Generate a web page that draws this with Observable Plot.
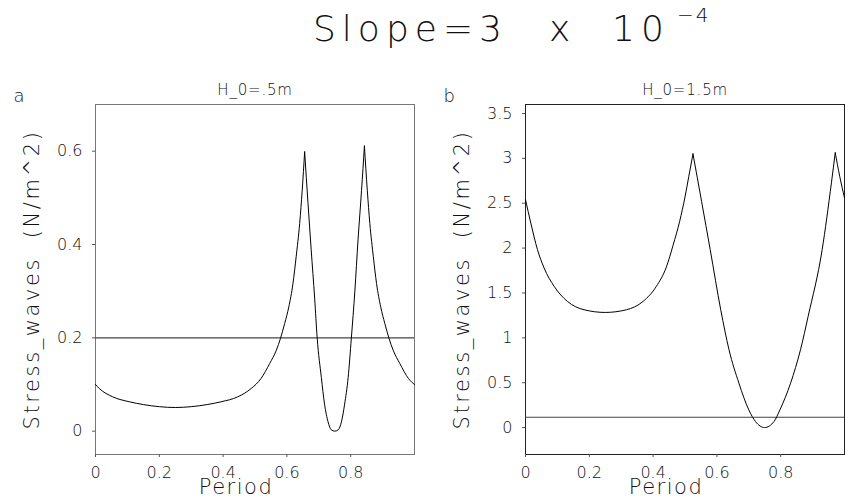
<!DOCTYPE html>
<html><head><meta charset="utf-8">
<script src="https://cdn.jsdelivr.net/npm/d3@7"></script>
<script src="https://cdn.jsdelivr.net/npm/@observablehq/plot@0.6"></script>
<style>
body{margin:0;background:#fff;font-family:"DejaVu Sans",sans-serif;}
#wrap{position:relative;width:851px;height:502px;overflow:hidden;background:#fff;}
.abs{position:absolute;white-space:nowrap;color:#111;line-height:1;font-weight:200;}
#pa{position:absolute;left:0;top:0;}
#pb{position:absolute;left:430px;top:0;}
svg text{font-weight:200;}
</style></head><body>
<div id="wrap">
  <div id="pa"></div>
  <div id="pb"></div>
  <div class="abs" style="left:313px;top:11px;font-size:36px;letter-spacing:6px;">Slope=3</div>
  <div class="abs" style="left:549px;top:11px;font-size:36px;">x</div>
  <div class="abs" style="left:612px;top:11px;font-size:36px;letter-spacing:6px;">10</div>
  <div class="abs" style="left:677px;top:5px;font-size:20px;letter-spacing:2px;">−4</div>
</div>
<script>
// Panel a: H_0 = .5m
const periodA = [0, 0.012, 0.054, 0.106, 0.15, 0.2, 0.25, 0.3, 0.35, 0.394, 0.446, 0.488, 0.519, 0.546, 0.567, 0.58, 0.593, 0.606, 0.619, 0.629, 0.64, 0.648, 0.6556, 0.666, 0.676, 0.687, 0.695, 0.708, 0.718, 0.729, 0.739, 0.75, 0.761, 0.771, 0.781, 0.792, 0.802, 0.813, 0.823, 0.834, 0.843, 0.852, 0.86, 0.871, 0.881, 0.894, 0.907, 0.92, 0.933, 0.954, 0.981, 1.0];
const stressA = [0.1, 0.0914, 0.0736, 0.063, 0.057, 0.0525, 0.0507, 0.0525, 0.057, 0.063, 0.0736, 0.0914, 0.1129, 0.145, 0.1736, 0.199, 0.2307, 0.2664, 0.3164, 0.3735, 0.445, 0.5164, 0.5985, 0.49, 0.39, 0.285, 0.199, 0.115, 0.058, 0.02, 0.003, 0, 0.003, 0.02, 0.058, 0.115, 0.199, 0.3, 0.41, 0.516, 0.611, 0.5164, 0.445, 0.3735, 0.3164, 0.2664, 0.2307, 0.199, 0.1736, 0.145, 0.1129, 0.1];
const cuspsA = [0.6556, 0.843];
// Panel b: H_0 = 1.5m
const periodB = [0, 0.0166, 0.0375, 0.0583, 0.0897, 0.1314, 0.1836, 0.25, 0.3164, 0.3686, 0.4103, 0.4417, 0.4625, 0.4834, 0.5, 0.512, 0.525, 0.552, 0.579, 0.612, 0.638, 0.669, 0.7, 0.721, 0.7495, 0.779, 0.7975, 0.831, 0.862, 0.886, 0.93, 0.959, 0.971, 0.985, 1.0];
const stressB = [2.54, 2.28, 1.983, 1.778, 1.574, 1.406, 1.313, 1.283, 1.313, 1.406, 1.574, 1.79, 2.03, 2.3, 2.57, 2.8, 3.05, 2.52, 1.983, 1.313, 0.867, 0.495, 0.197, 0.067, 0, 0.067, 0.197, 0.495, 0.867, 1.239, 1.983, 2.727, 3.062, 2.8, 2.56];
const cuspsB = [0.525, 0.971];

const refLevels = [0.2, 0.115];
const periodTicks = [0, 0.2, 0.4, 0.6, 0.8];
const ticksA = [0, 0.2, 0.4, 0.6];
const ticksB = [0, 0.5, 1, 1.5, 2, 2.5, 3, 3.5];
const titles = ["H_0=.5m", "H_0=1.5m"];
const letters = ["a", "b"];
const yLabel = "Stress_waves  (N/m^2)";
const xLabel = "Period";

// split the curve at its cusps so the smooth interpolation keeps the peaks sharp
function segments(xs, ys, cusps) {
  const bounds = [0, ...cusps, 1];
  const rows = [];
  for (let s = 0; s < bounds.length - 1; s++) {
    xs.forEach((x, i) => {
      if (x >= bounds[s] - 1e-9 && x <= bounds[s + 1] + 1e-9) rows.push({x, y: ys[i], seg: s});
    });
  }
  return rows;
}

function panel(xs, ys, cusps, ref, yDomain, yTicks, title, letter, w, mr, frameColor) {
  const data = segments(xs, ys, cusps);
  return Plot.plot({
    width: w, height: 502,
    marginLeft: 95, marginRight: mr, marginTop: 104, marginBottom: 48,
    style: {fontFamily: "DejaVu Sans, sans-serif", fontSize: "16px", color: "#111", background: "transparent", overflow: "visible"},
    x: {domain: [0, 1]},
    y: {domain: yDomain},
    marks: [
      Plot.frame({stroke: frameColor}),
      Plot.axisX({ticks: periodTicks, tickFormat: d => String(d), tickSize: 3, tickPadding: 9, label: null, stroke: "#555"}),
      Plot.axisY({ticks: yTicks, tickFormat: d => String(d), tickSize: 3, tickPadding: 10, label: null, stroke: "#555"}),
      Plot.ruleY([ref], {stroke: "#444", strokeWidth: 1.2}),
      Plot.line(data, {x: "x", y: "y", z: "seg", stroke: "#000", strokeWidth: 1, curve: "monotone-x"}),
      Plot.text([title], {frameAnchor: "top", lineAnchor: "middle", dy: -14, fontSize: 15, fill: "#111"}),
      Plot.text([letter], {frameAnchor: "top-left", textAnchor: "start", lineAnchor: "middle", dx: -82, dy: -8, fontSize: 18, fill: "#111"}),
      Plot.text([xLabel], {frameAnchor: "bottom", lineAnchor: "middle", dx: -19, dy: 33, fontSize: 21, fill: "#111"}),
      Plot.text([yLabel], {frameAnchor: "left", textAnchor: "middle", lineAnchor: "middle", dx: -63, rotate: -90, fontSize: 21, fill: "#111"})
    ]
  });
}

document.getElementById("pa").appendChild(panel(periodA, stressA, cuspsA, refLevels[0], [-0.05, 0.7], ticksA, titles[0], letters[0], 430, 16, "#777"));
document.getElementById("pb").appendChild(panel(periodB, stressB, cuspsB, refLevels[1], [-0.3, 3.6], ticksB, titles[1], letters[1], 421, 7, "#222"));
document.querySelectorAll("svg text").forEach(t => {
  if (t.textContent.startsWith("Stress")) t.style.letterSpacing = "2.6px";
  if (t.textContent === "Period") t.style.letterSpacing = "1.5px";
  if (t.textContent.startsWith("H_0")) t.style.letterSpacing = "0.8px";
});
</script>
</body></html>
